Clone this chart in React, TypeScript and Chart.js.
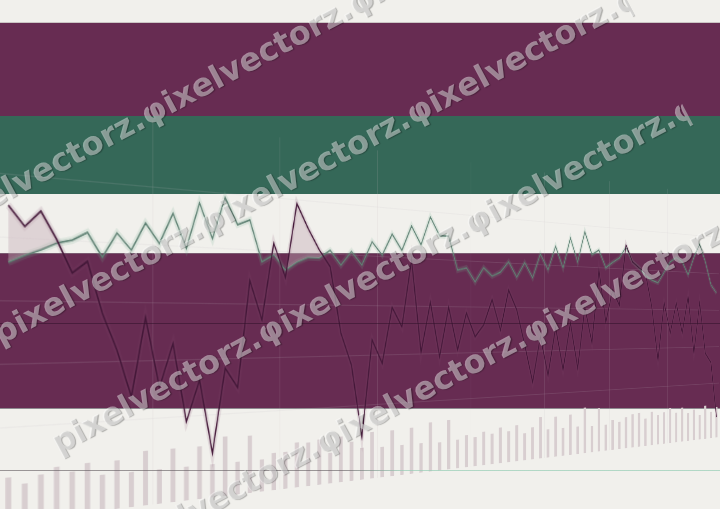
import React, { useEffect, useRef } from 'react';
import { Chart, registerables } from 'chart.js';

Chart.register(...registerables);

// ---- data ----
const DAYS: string[] = Array.from({ length: 75 }, (_, i) => `Day ${i + 1}`);

const PRICE: number[] = [
  275, 259, 272, 250, 223, 233, 190, 159, 119, 187,
  126, 164, 95, 131, 65, 141, 123, 221, 185, 257,
  225, 296, 273, 253, 237, 172, 140, 68, 165, 141,
  198, 178, 248, 151, 204, 146, 199, 153, 193, 167,
  180, 208, 174, 219, 197, 157, 114, 166, 121, 177,
  127, 182, 128, 201, 158, 247, 183, 223, 204, 280,
  259, 252, 246, 203, 134, 208, 169, 208, 169, 217,
  142, 209, 141, 128, 53,
];

const SIGNAL: number[] = [
  230, 236, 241, 247, 250, 257, 237, 258, 244, 268,
  251, 278, 248, 289, 258, 296, 272, 277, 239, 246,
  232, 240, 245, 245, 253, 239, 253, 240, 264, 251,
  273, 257, 283, 264, 294, 275, 275, 239, 242, 227,
  243, 234, 239, 251, 234, 251, 234, 262, 244, 272,
  247, 283, 255, 292, 265, 271, 250, 257, 263, 277,
  259, 252, 243, 237, 234, 248, 262, 268, 263, 246,
  270, 288, 265, 234, 223,
];

const VOLUME: number[] = [
  35, 29, 35, 40, 35, 41, 30, 41, 30, 47,
  30, 47, 30, 47, 30, 54, 30, 53, 30, 35,
  35, 43, 42, 44, 30, 45, 39, 32, 47, 31,
  47, 31, 48, 31, 52, 30, 53, 31, 35, 32,
  37, 34, 40, 35, 41, 31, 37, 48, 33, 47,
  33, 48, 33, 55, 32, 53, 32, 37, 34, 39,
  42, 43, 35, 43, 38, 41, 46, 39, 45, 37,
  41, 33, 45, 36, 42,
];

const PRICE_GRID: number[] = [100, 150, 200, 250, 300];
const DATE_GRID: number[] = [10, 20, 29, 39, 48, 57, 66];

const WATERMARK_LINES: string[] = [
  'pixelvectorz.φixelvectorz.φixelvectorz.φixelvectorz.',
  'pixelvectorz.φixelvectorz.φixelvectorz.φixelvectorz.',
  'pixelvectorz.φixelvectorz.φixelvectorz.φixelvectorz.',
  'pixelvectorz.φixelvectorz.φixelvectorz.φixelvectorz.',
];

export default function App() {
  const ref = useRef<HTMLCanvasElement | null>(null);

  useEffect(() => {
    document.body.style.margin = '0';
    const canvas = ref.current;
    if (!canvas) return;
    const chart = new Chart(canvas, {
      type: 'bar',
      data: {
        labels: DAYS,
        datasets: [
          {
            type: 'line',
            label: 'Price',
            data: PRICE,
            yAxisID: 'y',
            borderColor: '#431738',
            borderWidth: 1.6,
            pointRadius: 0,
            tension: 0,
            fill: { target: 1, above: 'rgba(196,172,181,0.42)', below: 'rgba(0,0,0,0)' },
            order: 1,
          } as any,
          {
            type: 'line',
            label: 'Signal',
            data: SIGNAL,
            yAxisID: 'y',
            borderColor: '#5a7f70',
            borderWidth: 1.5,
            pointRadius: 0,
            tension: 0,
            fill: false,
            order: 2,
          } as any,
          {
            type: 'line',
            label: 'Price glow',
            data: PRICE,
            yAxisID: 'y',
            borderColor: 'rgba(130,70,105,0.14)',
            borderWidth: 6,
            pointRadius: 0,
            tension: 0,
            fill: false,
            order: 3,
          } as any,
          {
            type: 'line',
            label: 'Signal glow',
            data: SIGNAL,
            yAxisID: 'y',
            borderColor: 'rgba(110,170,145,0.17)',
            borderWidth: 6,
            pointRadius: 0,
            tension: 0,
            fill: false,
            order: 4,
          } as any,
          {
            type: 'bar',
            label: 'Volume',
            data: VOLUME,
            yAxisID: 'yVol',
            backgroundColor: '#d8ced0',
            barPercentage: 0.36,
            categoryPercentage: 1,
            order: 5,
          } as any,
        ],
      },
      options: {
        animation: false,
        responsive: false,
        maintainAspectRatio: false,
        layout: { padding: 0 },
        plugins: { legend: { display: false }, tooltip: { enabled: false } },
        scales: {
          x: {
            offset: true,
            grid: {
              offset: true,
              drawTicks: false,
              lineWidth: 1,
              color: (ctx: any) =>
                DATE_GRID.includes(ctx.index) ? 'rgba(200,188,195,0.16)' : 'rgba(0,0,0,0)',
            },
            ticks: { display: false, autoSkip: false },
            border: { display: false },
          },
          y: {
            min: 25,
            max: 357,
            afterBuildTicks: (axis: any) => {
              axis.ticks = PRICE_GRID.map((v) => ({ value: v }));
            },
            grid: { drawTicks: false, color: 'rgba(200,188,195,0.14)' },
            ticks: { display: false },
            border: { display: false },
          },
          yVol: {
            min: 0,
            max: 332,
            display: false,
          },
        },
      } as any,
    });
    return () => chart.destroy();
  }, []);

  return (
    <div
      style={{
        position: 'fixed',
        left: 0,
        top: 0,
        width: 720,
        height: 509,
        overflow: 'hidden',
        background: '#f1f0ec',
      }}
    >
      {/* flat colour bands */}
      <div style={{ position: 'absolute', left: 0, top: 22, width: 720, height: 94, boxSizing: 'border-box', background: '#672c52', borderTop: '1px solid #cbc5c4' }} />
      <div style={{ position: 'absolute', left: 0, top: 116, width: 720, height: 78, background: '#356858' }} />
      <div style={{ position: 'absolute', left: 0, top: 253, width: 720, height: 156, boxSizing: 'border-box', background: '#672c52', borderTop: '1px solid #7a5a70', borderBottom: '1px solid #8e8a90' }} />

      {/* tilted chart */}
      <div
        style={{
          position: 'absolute',
          left: -80,
          top: 148,
          width: 1208,
          height: 332,
          transformOrigin: '440px 175px',
          transform: 'perspective(1572px) rotateY(50deg)',
        }}
      >
        <canvas ref={ref} width={1208} height={332} style={{ display: 'block' }} />
      </div>

      {/* flat rules */}
      <div style={{ position: 'absolute', left: 0, top: 323, width: 720, height: 1, background: 'rgba(50,18,42,0.55)' }} />
      <div
        style={{
          position: 'absolute',
          left: 0,
          top: 470,
          width: 720,
          height: 1,
          background:
            'linear-gradient(90deg, rgba(95,88,92,0.6) 0%, rgba(95,88,92,0.6) 48%, rgba(150,205,182,0.7) 56%, rgba(150,205,182,0.7) 100%)',
        }}
      />

      {/* watermark */}
      <div
        style={{
          position: 'absolute',
          left: -92,
          top: 171,
          width: 715,
          height: 496,
          overflow: 'hidden',
          transformOrigin: '0 0',
          transform: 'rotate(-28deg)',
          font: 'bold 32px "DejaVu Sans", sans-serif',
          lineHeight: '124px',
          color: 'rgba(255,255,255,0.45)',
          textShadow: '1px 1px 1px rgba(0,0,0,0.28)',
          whiteSpace: 'nowrap',
          pointerEvents: 'none',
        }}
      >
        {WATERMARK_LINES.map((t, i) => (
          <div key={i}>{t}</div>
        ))}
      </div>
    </div>
  );
}
